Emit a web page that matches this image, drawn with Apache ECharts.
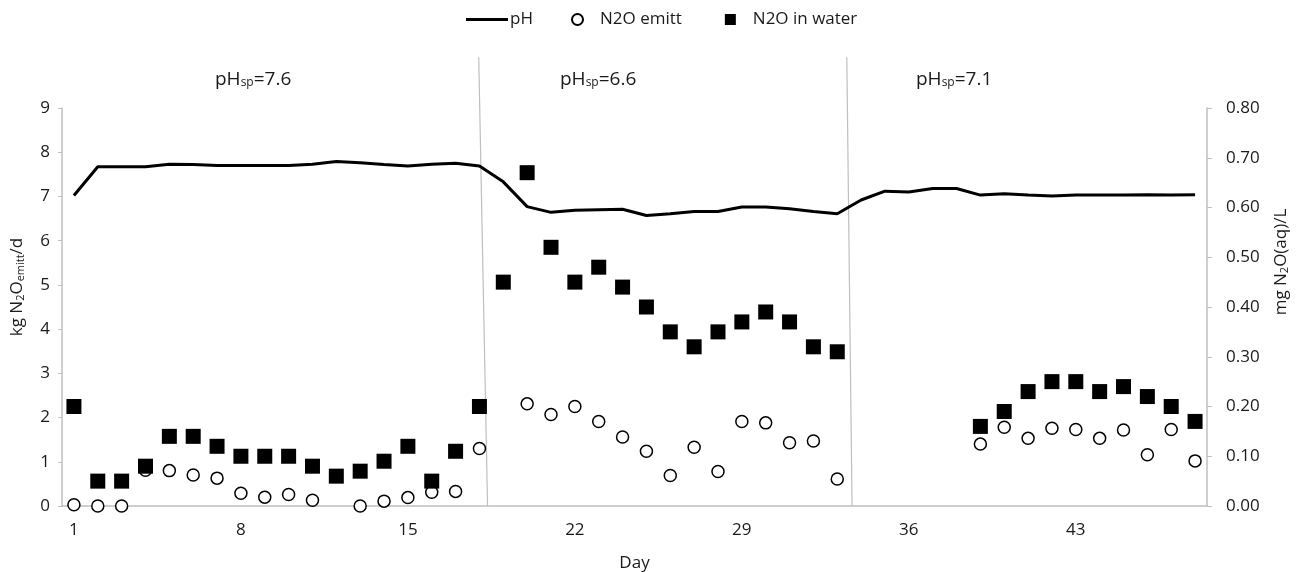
<!DOCTYPE html>
<html>
<head>
<meta charset="utf-8">
<script src="https://cdn.jsdelivr.net/npm/echarts@6/dist/echarts.min.js"></script>
<style>html,body{margin:0;padding:0;background:#fff}#c{width:1296px;height:572px}</style>
</head>
<body>
<div id="c"></div>
<script>
var days = [];
for (var d = 1; d <= 48; d++) days.push(String(d));

var pH = [7.02,7.67,7.67,7.67,7.73,7.72,7.70,7.70,7.70,7.70,7.73,7.79,7.76,7.72,7.69,7.73,7.75,7.69,
          7.33,6.77,6.64,6.69,6.70,6.71,6.57,6.61,6.66,6.66,6.76,6.76,6.72,6.66,6.61,
          6.92,7.12,7.10,7.18,7.18,7.03,7.06,7.03,7.01,7.03,7.03,7.03,7.04,7.03,7.04];

var n2oEmitt = [0.03,0.0,0.0,0.81,0.80,0.70,0.63,0.29,0.20,0.26,0.13,'-',0.0,0.11,0.19,0.31,0.33,1.30,
                '-',2.31,2.07,2.25,1.91,1.56,1.24,0.69,1.33,0.78,1.91,1.88,1.43,1.47,0.61,
                '-','-','-','-','-',1.40,1.78,1.53,1.76,1.73,1.53,1.72,1.16,1.73,1.02];

var n2oWater = [0.20,0.05,0.05,0.08,0.14,0.14,0.12,0.10,0.10,0.10,0.08,0.06,0.07,0.09,0.12,0.05,0.11,0.20,
                0.45,0.67,0.52,0.45,0.48,0.44,0.40,0.35,0.32,0.35,0.37,0.39,0.37,0.32,0.31,
                '-','-','-','-','-',0.16,0.19,0.23,0.25,0.25,0.23,0.24,0.22,0.20,0.17];

// phase separator lines: [x at top, y top], [x at bottom, y bottom] (day units, left axis units)
var sep1 = [[17.97, 10.15], [18.34, 0]];
var sep2 = [[33.40, 10.15], [33.62, 0]];

var phaseLabels = ['7.6', '6.6', '7.1'];

var chart = echarts.init(document.getElementById('c'));
var txt = '#1a1a1a';
var axisGrey = '#bfbfbf';
var font = 'Open Sans';

function phaseText(v, left) {
  return {
    type: 'text', left: left, top: 70,
    style: {
      text: '{a|pH}{s|sp}{a|=' + v + '}',
      rich: {
        a: {fontSize: 19, fontFamily: font, fill: txt, verticalAlign: 'bottom', lineHeight: 24},
        s: {fontSize: 12, fontFamily: font, fill: txt, verticalAlign: 'bottom', lineHeight: 13}
      }
    }
  };
}

chart.setOption({
  backgroundColor: '#fff',
  animation: false,
  textStyle: {fontFamily: font, color: txt},
  grid: {left: 62, right: 89, top: 108, bottom: 66, containLabel: false, outerBoundsMode: 'none'},
  legend: [
    {data: ['pH'], left: 461, top: 6, itemWidth: 42, itemHeight: 3, icon: 'rect',
     textStyle: {fontSize: 17, color: txt, fontFamily: font, padding: [0, 0, 0, -3]}},
    {data: ['N2O emitt', 'N2O in water'], left: 566, top: 6, itemWidth: 11, itemHeight: 11, itemGap: 43,
     textStyle: {fontSize: 17, color: txt, fontFamily: font, padding: [0, 0, 0, 12]}}
  ],
  xAxis: [
    {type: 'category', data: days, boundaryGap: true,
     name: 'Day', nameLocation: 'middle', nameGap: 49,
     nameTextStyle: {fontSize: 17, color: txt},
     axisLine: {lineStyle: {color: axisGrey, width: 1.5}},
     axisTick: {interval: 6, length: 5, lineStyle: {color: axisGrey}},
     axisLabel: {interval: 6, fontSize: 17, color: txt, margin: 16},
     splitLine: {show: false}},
    {type: 'value', min: 0.5, max: 48.5, show: false}
  ],
  yAxis: [
    {type: 'value', min: 0, max: 9, interval: 1,
     name: '{a|kg N}{s|2}{a|O}{s|emitt}{a|/d}', nameLocation: 'middle', nameGap: 36, nameRotate: 90,
     nameTextStyle: {padding: [0, 0, 0, 40], rich: {
       a: {fontSize: 17, color: txt, fontFamily: font, verticalAlign: 'bottom', lineHeight: 22},
       s: {fontSize: 11, color: txt, fontFamily: font, verticalAlign: 'bottom', lineHeight: 14}}},
     axisLine: {show: true, lineStyle: {color: axisGrey, width: 1.5}},
     axisTick: {show: true, length: 4, lineStyle: {color: axisGrey}},
     axisLabel: {fontSize: 17, color: txt, margin: 12},
     splitLine: {show: false}},
    {type: 'value', min: 0, max: 0.8, interval: 0.1, position: 'right',
     name: '{a|mg N}{s|2}{a|O(aq)/L}', nameLocation: 'middle', nameGap: 61, nameRotate: 90,
     nameTextStyle: {padding: [0, 0, 0, 90], rich: {
       a: {fontSize: 17, color: txt, fontFamily: font, verticalAlign: 'bottom', lineHeight: 22},
       s: {fontSize: 11, color: txt, fontFamily: font, verticalAlign: 'bottom', lineHeight: 14}}},
     axisLine: {show: true, lineStyle: {color: axisGrey, width: 1.5}},
     axisTick: {show: true, length: 5, lineStyle: {color: axisGrey}},
     axisLabel: {fontSize: 17, color: txt, margin: 19, formatter: function (v) { return v.toFixed(2); }},
     splitLine: {show: false}}
  ],
  series: [
    {name: 'sep1', type: 'line', xAxisIndex: 1, yAxisIndex: 0, data: sep1, clip: false,
     symbol: 'none', silent: true, lineStyle: {color: axisGrey, width: 1.2}, z: 1},
    {name: 'sep2', type: 'line', xAxisIndex: 1, yAxisIndex: 0, data: sep2, clip: false,
     symbol: 'none', silent: true, lineStyle: {color: axisGrey, width: 1.2}, z: 1},
    {name: 'pH', type: 'line', xAxisIndex: 0, yAxisIndex: 0, data: pH, symbol: 'none',
     lineStyle: {color: '#000', width: 3}, itemStyle: {color: '#000'}, z: 3},
    {name: 'N2O emitt', type: 'scatter', xAxisIndex: 0, yAxisIndex: 0, data: n2oEmitt,
     symbol: 'circle', symbolSize: 12,
     itemStyle: {color: '#fff', borderColor: '#000', borderWidth: 1.5, opacity: 1}, z: 4},
    {name: 'N2O in water', type: 'scatter', xAxisIndex: 0, yAxisIndex: 1, data: n2oWater,
     symbol: 'rect', symbolSize: 15,
     itemStyle: {color: '#000', opacity: 1}, z: 5}
  ],
  graphic: [
    phaseText(phaseLabels[0], 215),
    phaseText(phaseLabels[1], 560),
    phaseText(phaseLabels[2], 916)
  ]
});
</script>
</body>
</html>
